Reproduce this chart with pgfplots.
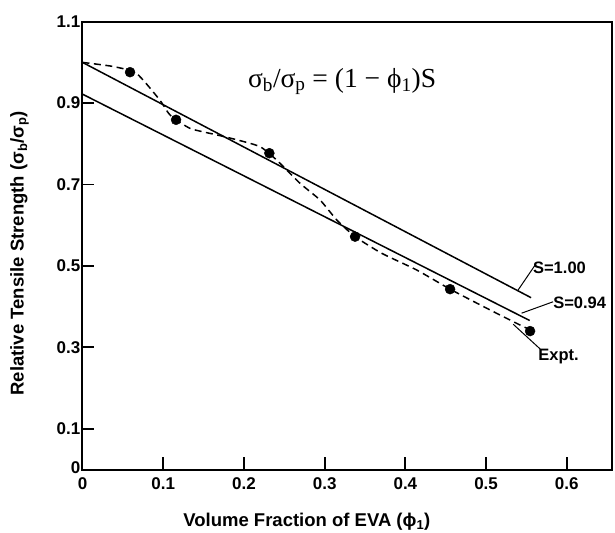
\documentclass[border=0pt]{standalone}
\usepackage{fontspec}
\setmainfont{Liberation Sans}
\newfontfamily\serif{Liberation Serif}
\usepackage{pgfplots}
\pgfplotsset{compat=1.18}
\begin{document}
\begin{tikzpicture}
\begin{axis}[
  scale only axis, width=529.5bp, height=447.8bp,
  xmin=0, xmax=0.656, ymin=0, ymax=1.1,
  axis line style={line width=2bp},
  tick pos=left, tick align=inside,
  major tick length=12bp,
  tick style={line width=1.8bp, black},
  xtick={0,0.1,0.2,0.3,0.4,0.5,0.6},
  xticklabels={0,0.1,0.2,0.3,0.4,0.5,0.6},
  ytick={0,0.1,0.3,0.5,0.7,0.9,1.1},
  yticklabels={\raisebox{4bp}{0},0.1,0.3,0.5,0.7,0.9,1.1},
  tick label style={font=\bfseries\fontsize{17bp}{18bp}\selectfont},
  yticklabel style={inner xsep=2bp},
  xticklabel style={yshift=-5bp},
  label style={font=\bfseries\fontsize{18.5bp}{20bp}\selectfont},
  xlabel={Volume Fraction of EVA (ϕ\textsubscript{1})},
  ylabel={Relative Tensile Strength (σ\textsubscript{b}/σ\textsubscript{p})},
  xlabel style={at={(axis cs:0.278,0)}, anchor=center, yshift=-52.2bp},
  ylabel style={at={(axis cs:0,0.531)}, anchor=center, yshift=63bp},
  clip=false,
]
\addplot[black, line width=1.5bp] coordinates {(0,1.0) (0.5558,0.422)};
\addplot[black, line width=1.5bp] coordinates {(0,0.922) (0.554,0.366)};
\addplot[black, line width=1.5bp, dash pattern=on 7bp off 4.5bp, smooth, tension=0.35] coordinates {
 (0,1.0) (0.0378,0.99) (0.0669,0.973) (0.0960,0.907) (0.1084,0.871) (0.1332,0.838)
 (0.1663,0.822) (0.1911,0.81) (0.2200,0.793) (0.2406,0.760) (0.2695,0.703)
 (0.2943,0.662) (0.3150,0.613) (0.3377,0.572) (0.3708,0.531) (0.4141,0.49)
 (0.4554,0.443) (0.5009,0.396) (0.5338,0.363) (0.5545,0.343)};
\addplot[only marks, mark=*, mark size=5bp, black] coordinates {
 (0.0589,0.976) (0.1159,0.859) (0.2315,0.777) (0.3377,0.572) (0.4554,0.443) (0.5545,0.340)};
\draw[line width=1bp] (axis cs:0.5397,0.441) -- (axis cs:0.5607,0.502);
\draw[line width=1bp] (axis cs:0.544,0.384) -- (axis cs:0.583,0.412);
\draw[line width=1bp] (axis cs:0.5335,0.357) -- (axis cs:0.567,0.296);
\node[anchor=west, inner sep=0pt, font=\bfseries\fontsize{16.5bp}{18bp}\selectfont] at (axis cs:0.558,0.495) {S=1.00};
\node[anchor=west, inner sep=0pt, font=\bfseries\fontsize{16.5bp}{18bp}\selectfont] at (axis cs:0.583,0.41) {S=0.94};
\node[anchor=west, inner sep=0pt, font=\bfseries\fontsize{16.5bp}{18bp}\selectfont] at (axis cs:0.5645,0.277) {Expt.};
\node[font=\serif\fontsize{27.5bp}{29bp}\selectfont] at (axis cs:0.3216,0.953) {σ\textsubscript{b}/σ\textsubscript{p} = (1 − ϕ\textsubscript{1})S};
\coordinate (sw) at (rel axis cs:0,0);
\coordinate (ne) at (rel axis cs:1,1);
\end{axis}
\pgfresetboundingbox
\useasboundingbox ([xshift=-82.5bp,yshift=-63.5bp]sw) rectangle ([xshift=3bp,yshift=21.7bp]ne);
\end{tikzpicture}
\end{document}
